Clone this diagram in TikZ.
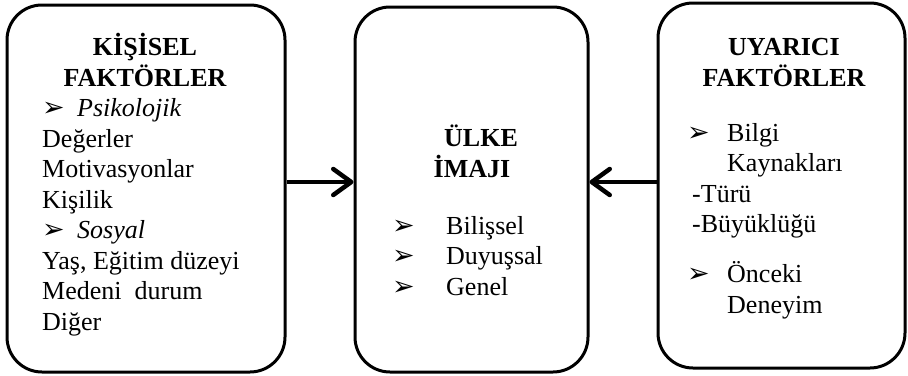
\documentclass[tikz,border=0pt]{standalone}
\usepackage{fontspec}
\setmainfont{Liberation Serif}
\newfontfamily\okfont{DejaVu Sans}
\usetikzlibrary{arrows.meta, positioning}

\newcommand{\madde}[1][35pt]{\makebox[#1][l]{\okfont\fontsize{27}{27}\selectfont ➢}}

\begin{document}
\begin{tikzpicture}[
x=1pt, y=1pt,
node distance=16mm and 67pt,
font=\fontsize{26}{30.5}\selectfont,
kutu/.style={
rectangle, draw, line width=3pt,
rounded corners=35pt,
minimum height=365pt
},
baslik/.style={
align=center, inner sep=0pt,
font=\fontsize{26}{31}\selectfont\bfseries
},
metin/.style={align=left, inner sep=0pt},
ok/.style={-{Straight Barb[length=18pt, width=26pt, line cap=round, line join=round]}, line width=4.5pt}
]

\useasboundingbox (0,0) rectangle (908,-375);

\node[kutu, minimum width=278pt, minimum height=367pt] (kisisel) at (146,-188.5) {};
\node[kutu, minimum width=233pt, right=of kisisel, yshift=-1pt] (ulke) {};
\node[kutu, minimum width=247pt, right=of ulke, yshift=4pt] (uyarici) {};

\node[baslik, anchor=base] (kisiselBaslik) at (145,-86) {KİŞİSEL\\FAKTÖRLER};
\node[metin, anchor=base west] (kisiselMetin) at (42,-330)
{\madde\textit{Psikolojik}\\Değerler\\Motivasyonlar\\Kişilik\\
\madde\textit{Sosyal}\\Yaş, Eğitim düzeyi\\Medeni\ \ durum\\Diğer};

\node[baslik, anchor=base] (ulkeBaslik) at (472,-177) {\hspace*{18pt}ÜLKE\\İMAJI};
\node[metin, anchor=base west] (ulkeMetin) at (392,-295)
{\madde[54pt]Bilişsel\\\madde[54pt]Duyuşsal\\\madde[54pt]Genel};

\node[baslik, anchor=base] (uyariciBaslik) at (784,-86) {UYARICI\\FAKTÖRLER};
\node[metin, anchor=base west] (uyariciMetin) at (687,-313)
{\madde[40pt]Bilgi\\\hspace*{40pt}Kaynakları\\\hspace*{5pt}-Türü\\\hspace*{5pt}-Büyüklüğü\\[19.5pt]
\madde[40pt]Önceki\\\hspace*{40pt}Deneyim};

\draw[ok] ([yshift=6.5pt]kisisel.east) -- ([yshift=7.5pt]ulke.west);
\draw[ok] ([yshift=3.5pt]uyarici.west) -- ([yshift=7.5pt]ulke.east);

\end{tikzpicture}
\end{document}
